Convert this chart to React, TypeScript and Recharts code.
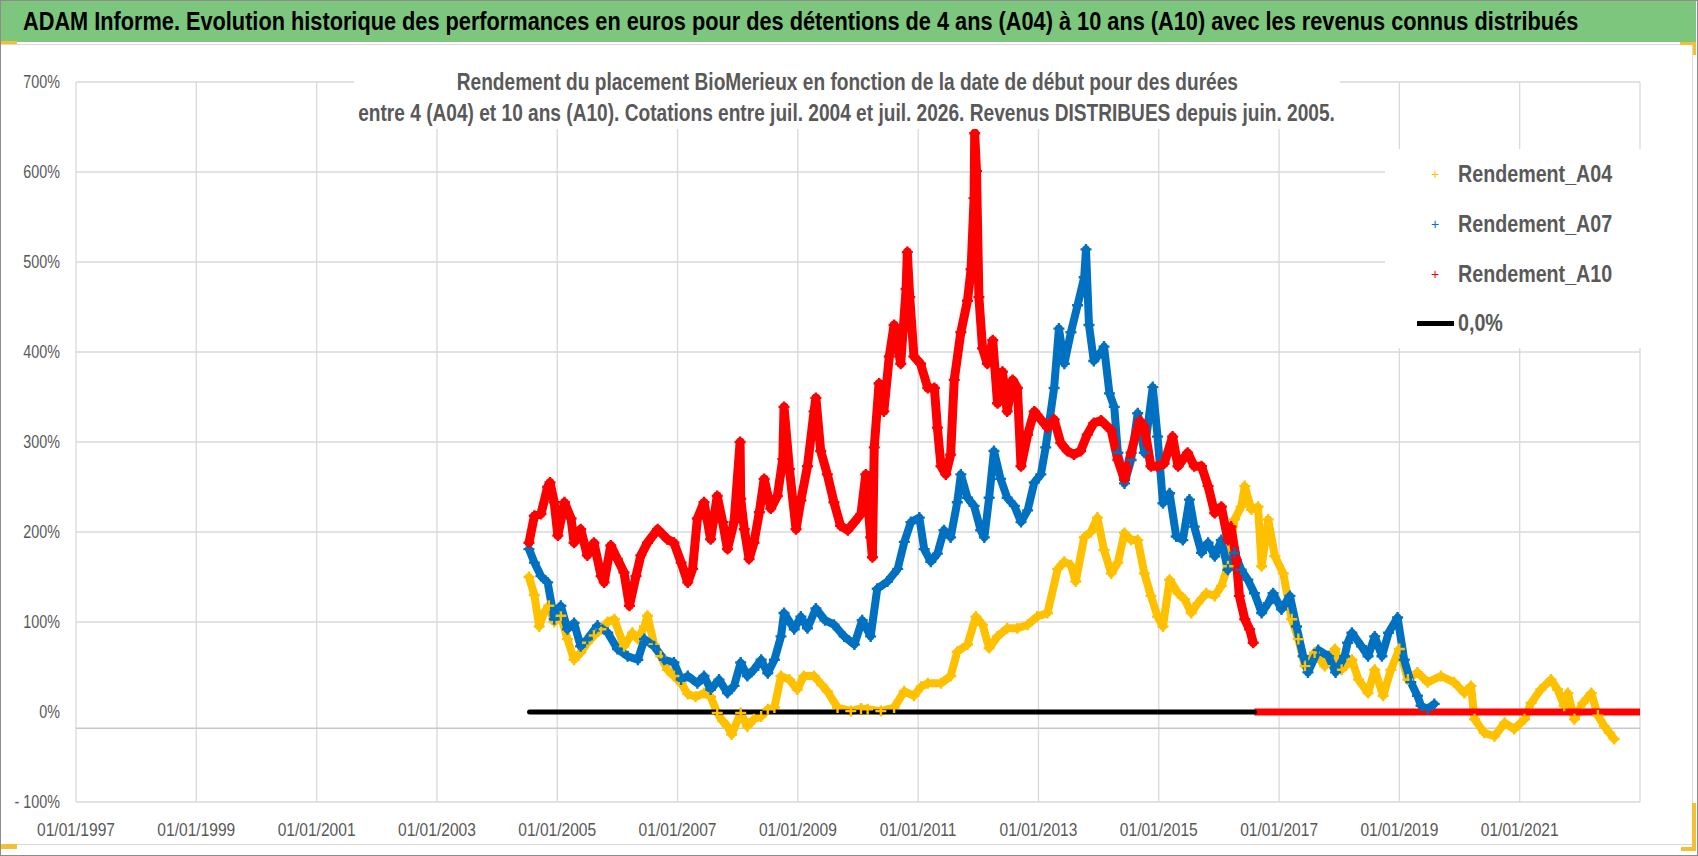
import {
  CartesianGrid,
  ComposedChart,
  Line,
  ReferenceLine,
  XAxis,
  YAxis,
} from "recharts";

const FONT = "'Liberation Sans', Arial, sans-serif";
const NARROW = 0.82; // squeeze to get a Calibri-like width
const GREY_TEXT = "#595959";
const GRID = "#d9d9d9";

const yearTicks = [1997, 1999, 2001, 2003, 2005, 2007, 2009, 2011, 2013, 2015, 2017, 2019, 2021];
const pctTicks = [-100, 0, 100, 200, 300, 400, 500, 600, 700];
const gridLevels = [-100, 100, 200, 300, 400, 500, 600, 700];
const axisCross = -18;

const headerTitle =
  "ADAM Informe. Evolution historique des performances en euros pour des détentions de 4 ans (A04) à 10 ans (A10) avec les revenus connus distribués";
const chartTitle = [
  "Rendement du placement BioMerieux en fonction de la date de début pour des durées",
  "entre 4 (A04) et 10 ans (A10). Cotations entre juil. 2004 et juil. 2026. Revenus DISTRIBUES depuis juin. 2005.",
];

// [year, rendement %]
const rendementA04: [number, number][] = [
  [2004.53, 150], [2004.62, 130], [2004.7, 95], [2004.78, 110], [2004.86, 118], [2004.95, 100],
  [2005.06, 107], [2005.17, 81], [2005.28, 58], [2005.39, 66], [2005.5, 77], [2005.61, 85],
  [2005.73, 92], [2005.84, 100], [2005.95, 103], [2006.11, 73], [2006.25, 88], [2006.34, 81],
  [2006.45, 95], [2006.5, 107], [2006.61, 75], [2006.72, 62], [2006.83, 47], [2006.94, 40],
  [2007.06, 32], [2007.17, 20], [2007.3, 17], [2007.44, 21], [2007.55, 17], [2007.66, -1],
  [2007.75, -10], [2007.83, -16], [2007.9, -25], [2008.05, -1], [2008.16, -16], [2008.27, -8],
  [2008.39, -5], [2008.5, 3], [2008.61, 5], [2008.72, 40], [2008.86, 36], [2008.99, 25],
  [2009.1, 40], [2009.27, 40], [2009.4, 30], [2009.49, 23], [2009.66, 5], [2009.88, 1],
  [2010.05, 4], [2010.16, 3], [2010.38, 1], [2010.6, 5], [2010.77, 23], [2010.93, 18],
  [2011.05, 28], [2011.16, 32], [2011.38, 32], [2011.54, 40], [2011.65, 67], [2011.82, 75],
  [2011.96, 106], [2012.07, 97], [2012.18, 71], [2012.32, 84], [2012.48, 93], [2012.65, 93],
  [2012.82, 97], [2012.98, 106], [2013.15, 110], [2013.32, 159], [2013.43, 167], [2013.54, 163],
  [2013.62, 145], [2013.76, 194], [2013.87, 200], [2013.98, 216], [2014.09, 180], [2014.21, 154],
  [2014.32, 166], [2014.43, 199], [2014.54, 191], [2014.65, 191], [2014.76, 154], [2014.87, 129],
  [2014.98, 106], [2015.07, 95], [2015.18, 147], [2015.32, 132], [2015.43, 125], [2015.54, 110],
  [2015.65, 121], [2015.79, 132], [2015.93, 129], [2016.04, 140], [2016.15, 162], [2016.26, 214],
  [2016.37, 228], [2016.43, 251], [2016.54, 225], [2016.65, 228], [2016.71, 162], [2016.82, 214],
  [2016.93, 173], [2017.07, 154], [2017.21, 103], [2017.32, 81], [2017.43, 51], [2017.59, 66],
  [2017.76, 51], [2017.93, 70], [2018.04, 47], [2018.21, 58], [2018.32, 36], [2018.48, 21],
  [2018.59, 47], [2018.73, 18], [2018.86, 47], [2019.0, 70], [2019.14, 36], [2019.3, 44],
  [2019.47, 33], [2019.69, 40], [2019.91, 33], [2020.08, 21], [2020.19, 29], [2020.25, -8],
  [2020.41, -23], [2020.58, -27], [2020.75, -12], [2020.91, -19], [2021.08, -8], [2021.19, 10],
  [2021.35, 25], [2021.52, 36], [2021.63, 25], [2021.74, 7], [2021.8, 21], [2021.91, -8],
  [2022.05, 10], [2022.19, 21], [2022.3, -4], [2022.41, -16], [2022.49, -23], [2022.57, -30],
];

const rendementA07: [number, number][] = [
  [2004.53, 181], [2004.62, 166], [2004.73, 151], [2004.84, 144], [2004.95, 103], [2005.06, 118],
  [2005.17, 92], [2005.28, 99], [2005.39, 73], [2005.5, 81], [2005.67, 96], [2005.84, 88],
  [2006.0, 70], [2006.17, 62], [2006.34, 58], [2006.45, 81], [2006.61, 73], [2006.78, 58],
  [2006.94, 55], [2007.06, 36], [2007.17, 40], [2007.33, 32], [2007.44, 40], [2007.55, 25],
  [2007.69, 36], [2007.83, 21], [2007.94, 29], [2008.05, 55], [2008.16, 40], [2008.27, 47],
  [2008.39, 58], [2008.5, 43], [2008.61, 58], [2008.72, 84], [2008.77, 110], [2008.94, 92],
  [2009.05, 106], [2009.16, 93], [2009.3, 115], [2009.45, 102], [2009.6, 97], [2009.77, 84],
  [2009.94, 75], [2010.07, 102], [2010.21, 84], [2010.32, 137], [2010.49, 145], [2010.66, 159],
  [2010.77, 189], [2010.88, 211], [2011.02, 216], [2011.1, 181], [2011.21, 167], [2011.32, 176],
  [2011.43, 202], [2011.54, 194], [2011.65, 233], [2011.71, 264], [2011.82, 238], [2011.93, 229],
  [2012.04, 202], [2012.1, 194], [2012.18, 238], [2012.26, 290], [2012.37, 259], [2012.48, 238],
  [2012.6, 229], [2012.71, 211], [2012.82, 224], [2012.93, 255], [2013.04, 264], [2013.12, 294],
  [2013.26, 360], [2013.34, 426], [2013.43, 387], [2013.54, 422], [2013.65, 452], [2013.76, 483],
  [2013.79, 514], [2013.84, 430], [2013.92, 390], [2014.04, 400], [2014.09, 406], [2014.18, 354],
  [2014.26, 339], [2014.32, 288], [2014.43, 254], [2014.54, 280], [2014.65, 332], [2014.76, 288],
  [2014.9, 361], [2014.98, 306], [2015.07, 232], [2015.18, 243], [2015.29, 195], [2015.4, 191],
  [2015.51, 236], [2015.59, 206], [2015.71, 177], [2015.82, 188], [2015.93, 173], [2016.04, 191],
  [2016.15, 158], [2016.26, 177], [2016.37, 158], [2016.48, 147], [2016.59, 132], [2016.71, 110],
  [2016.82, 121], [2016.9, 132], [2017.04, 114], [2017.18, 129], [2017.29, 95], [2017.4, 62],
  [2017.48, 44], [2017.65, 69], [2017.82, 62], [2017.94, 44], [2018.09, 62], [2018.14, 77],
  [2018.21, 88], [2018.37, 73], [2018.48, 62], [2018.59, 84], [2018.71, 62], [2018.82, 88],
  [2018.97, 105], [2019.08, 58], [2019.19, 33], [2019.3, 18], [2019.36, 7], [2019.47, 3],
  [2019.58, 9],
];

const rendementA10: [number, number][] = [
  [2004.53, 188], [2004.62, 218], [2004.73, 220], [2004.84, 250], [2004.88, 255], [2004.95, 233],
  [2005.01, 196], [2005.12, 233], [2005.23, 215], [2005.28, 188], [2005.39, 203], [2005.5, 174],
  [2005.61, 188], [2005.73, 151], [2005.78, 144], [2005.89, 185], [2006.0, 170], [2006.11, 155],
  [2006.2, 118], [2006.31, 151], [2006.39, 174], [2006.5, 188], [2006.67, 203], [2006.83, 192],
  [2006.94, 188], [2007.06, 166], [2007.17, 144], [2007.25, 159], [2007.33, 215], [2007.44, 233],
  [2007.55, 192], [2007.66, 240], [2007.75, 211], [2007.83, 181], [2007.94, 211], [2008.04, 300],
  [2008.05, 237], [2008.11, 203], [2008.19, 170], [2008.27, 188], [2008.36, 222], [2008.44, 259],
  [2008.55, 226], [2008.66, 240], [2008.75, 281], [2008.77, 339], [2008.86, 270], [2008.97, 203],
  [2009.05, 235], [2009.16, 273], [2009.27, 334], [2009.3, 349], [2009.38, 290], [2009.49, 264],
  [2009.6, 233], [2009.71, 207], [2009.83, 202], [2009.94, 211], [2010.05, 220], [2010.13, 264],
  [2010.21, 194], [2010.24, 172], [2010.27, 294], [2010.35, 365], [2010.43, 334], [2010.52, 395],
  [2010.6, 430], [2010.71, 387], [2010.8, 470], [2010.82, 511], [2010.86, 461], [2010.93, 395],
  [2011.04, 387], [2011.16, 360], [2011.27, 360], [2011.32, 316], [2011.38, 273], [2011.46, 264],
  [2011.54, 286], [2011.6, 369], [2011.71, 422], [2011.82, 457], [2011.88, 492], [2011.93, 571],
  [2011.94, 643], [2011.97, 601], [2012.01, 461], [2012.07, 404], [2012.15, 387], [2012.24, 413],
  [2012.32, 343], [2012.4, 378], [2012.48, 334], [2012.57, 369], [2012.65, 360], [2012.71, 273],
  [2012.82, 308], [2012.93, 334], [2013.04, 325], [2013.15, 316], [2013.26, 325], [2013.37, 299],
  [2013.48, 290], [2013.59, 286], [2013.7, 290], [2013.81, 308], [2013.92, 321], [2014.04, 324],
  [2014.21, 313], [2014.32, 280], [2014.43, 258], [2014.54, 288], [2014.68, 324], [2014.76, 317],
  [2014.87, 273], [2014.98, 273], [2015.09, 276], [2015.23, 306], [2015.32, 273], [2015.48, 288],
  [2015.59, 273], [2015.71, 273], [2015.82, 251], [2015.93, 221], [2016.04, 228], [2016.15, 191],
  [2016.2, 206], [2016.29, 169], [2016.34, 129], [2016.43, 103], [2016.51, 92], [2016.57, 77],
];

// A10 has no value after mid-2016: plotted at 0
const rendementA10Zero: [number, number][] = [[2016.59, 0], [2023.0, 0]];
const ligneZero: [number, number][] = [[2004.54, 0], [2016.59, 0]];

const toRows = (pts: [number, number][]) => pts.map(([x, y]) => ({ x, y }));

function plusDot(color: string, half: number) {
  return (props: any) => {
    const { cx, cy, index } = props;
    if (cx == null || cy == null) return <g key={`d${index}`} />;
    return (
      <path
        key={`d${index}`}
        d={`M${cx - half},${cy}H${cx + half}M${cx},${cy - half}V${cy + half}`}
        stroke={color}
        strokeWidth={2.4}
        fill="none"
      />
    );
  };
}

const series = [
  { name: "Rendement_A04", color: "#FFC000", data: rendementA04, width: 8 },
  { name: "Rendement_A07", color: "#0070C0", data: rendementA07, width: 8 },
  { name: "Rendement_A10", color: "#FF0000", data: rendementA10, width: 9 },
];

const fmtPct = (v: number) => (v < 0 ? `- ${Math.abs(v)}%` : `${v}%`);

function YTick(props: any) {
  const { x, y, payload } = props;
  return (
    <g transform={`translate(${x},${y}) scale(${NARROW},1)`}>
      <text textAnchor="end" dy="0.355em" fill={GREY_TEXT} fontSize={17.5} fontFamily={FONT}>
        {fmtPct(payload.value)}
      </text>
    </g>
  );
}

function XTick(props: any) {
  const { x, y, payload } = props;
  return (
    <g transform={`translate(${x},${y}) scale(${NARROW},1)`}>
      <text textAnchor="middle" dy="0.71em" fill={GREY_TEXT} fontSize={19} fontFamily={FONT}>
        {`01/01/${payload.value}`}
      </text>
    </g>
  );
}

function Squeezed({ children, origin = "left center" }: { children: React.ReactNode; origin?: string }) {
  return (
    <span style={{ display: "inline-block", transform: `scaleX(${NARROW})`, transformOrigin: origin }}>
      {children}
    </span>
  );
}

function Handle({ style }: { style: React.CSSProperties }) {
  return <div style={{ position: "absolute", background: "#F4C033", ...style }} />;
}

const titleLine: React.CSSProperties = {
  position: "absolute",
  left: -300,
  width: 1586,
  textAlign: "center",
  whiteSpace: "nowrap",
  lineHeight: "31px",
};

export default function App() {
  return (
    <div
      style={{
        position: "absolute",
        left: 0,
        top: 0,
        width: 1698,
        height: 856,
        background: "#fff",
        border: "1.5px solid #8c8c8c",
        boxSizing: "border-box",
        overflow: "hidden",
        fontFamily: FONT,
      }}
    >
      <div
        style={{
          position: "absolute",
          left: 0,
          top: 0,
          width: 1695,
          height: 41,
          background: "#7DC67E",
          color: "#000",
          fontWeight: 700,
          fontSize: 26.5,
          lineHeight: "41px",
          paddingLeft: 22,
          boxSizing: "border-box",
          whiteSpace: "nowrap",
        }}
      >
        <Squeezed>{headerTitle}</Squeezed>
      </div>
      <div
        style={{
          position: "absolute",
          left: 0,
          top: 43,
          width: 1691,
          height: 799,
          borderTop: `1px solid ${GRID}`,
          borderRight: `1px solid ${GRID}`,
          borderBottom: `1px solid ${GRID}`,
        }}
      />

      <div style={{ position: "absolute", left: 0, top: 0 }}>
        <ComposedChart width={1698} height={856} margin={{ top: 81, right: 59, bottom: 0, left: 0 }}>
          <CartesianGrid horizontal={false} stroke={GRID} strokeWidth={1.3} />
          {gridLevels.map((v) => (
            <ReferenceLine key={v} y={v} stroke={GRID} strokeWidth={1.3} />
          ))}
          <ReferenceLine y={axisCross} stroke="#c8c8c8" strokeWidth={1.5} />
          <XAxis
            type="number"
            dataKey="x"
            domain={[1997, 2023]}
            ticks={yearTicks}
            interval={0}
            allowDataOverflow
            axisLine={false}
            tickLine={false}
            tickSize={0}
            tickMargin={21}
            height={55}
            tick={<XTick />}
          />
          <YAxis
            type="number"
            domain={[-100, 700]}
            ticks={pctTicks}
            interval={0}
            allowDataOverflow
            axisLine={false}
            tickLine={false}
            tickSize={0}
            tickMargin={16}
            width={75}
            tick={<YTick />}
          />
          {series.map((s) => (
            <Line
              key={s.name}
              data={toRows(s.data)}
              dataKey="y"
              type="linear"
              stroke={s.color}
              strokeWidth={s.width}
              strokeLinejoin="round"
              strokeLinecap="round"
              dot={plusDot(s.color, 5.5)}
              activeDot={false}
              isAnimationActive={false}
            />
          ))}
          <Line
            data={toRows(rendementA10Zero)}
            dataKey="y"
            stroke="#FF0000"
            strokeWidth={7}
            dot={false}
            activeDot={false}
            isAnimationActive={false}
          />
          <Line
            data={toRows(ligneZero)}
            dataKey="y"
            stroke="#000"
            strokeWidth={5}
            strokeLinecap="round"
            dot={false}
            activeDot={false}
            isAnimationActive={false}
          />
        </ComposedChart>
      </div>

      <div
        style={{
          position: "absolute",
          left: 353,
          top: 61,
          width: 986,
          height: 67,
          background: "#fff",
          color: GREY_TEXT,
          fontWeight: 700,
          fontSize: 23.3,
        }}
      >
        <div style={{ ...titleLine, top: 5 }}>
          <Squeezed origin="center center">{chartTitle[0]}</Squeezed>
        </div>
        <div style={{ ...titleLine, top: 36 }}>
          <Squeezed origin="center center">{chartTitle[1]}</Squeezed>
        </div>
      </div>

      <div
        style={{
          position: "absolute",
          left: 1384,
          top: 148,
          width: 256,
          height: 199,
          background: "#fff",
          color: GREY_TEXT,
          fontWeight: 700,
          fontSize: 24,
        }}
      >
        {series.map((s, i) => (
          <div
            key={s.name}
            style={{ position: "absolute", left: 0, top: 10 + i * 50, height: 30, lineHeight: "30px", width: 256 }}
          >
            <span
              style={{ position: "absolute", left: 46, top: 0, color: s.color, fontSize: 14, fontWeight: 400 }}
            >
              +
            </span>
            <span style={{ position: "absolute", left: 73, whiteSpace: "nowrap" }}>
              <Squeezed>{s.name}</Squeezed>
            </span>
          </div>
        ))}
        <div style={{ position: "absolute", left: 32, top: 172, width: 37, height: 5, background: "#000" }} />
        <div style={{ position: "absolute", left: 73, top: 159, lineHeight: "30px" }}>
          <Squeezed>0,0%</Squeezed>
        </div>
      </div>

      <Handle style={{ left: 0, top: 40, width: 16, height: 3 }} />
      <Handle style={{ left: 0, top: 843, width: 16, height: 5 }} />
      <Handle style={{ left: 1679, top: 41, width: 16, height: 3 }} />
      <Handle style={{ left: 1692, top: 41, width: 3, height: 13 }} />
      <Handle style={{ left: 1680, top: 846, width: 15, height: 4 }} />
      <Handle style={{ left: 1691, top: 802, width: 4, height: 48 }} />
    </div>
  );
}
